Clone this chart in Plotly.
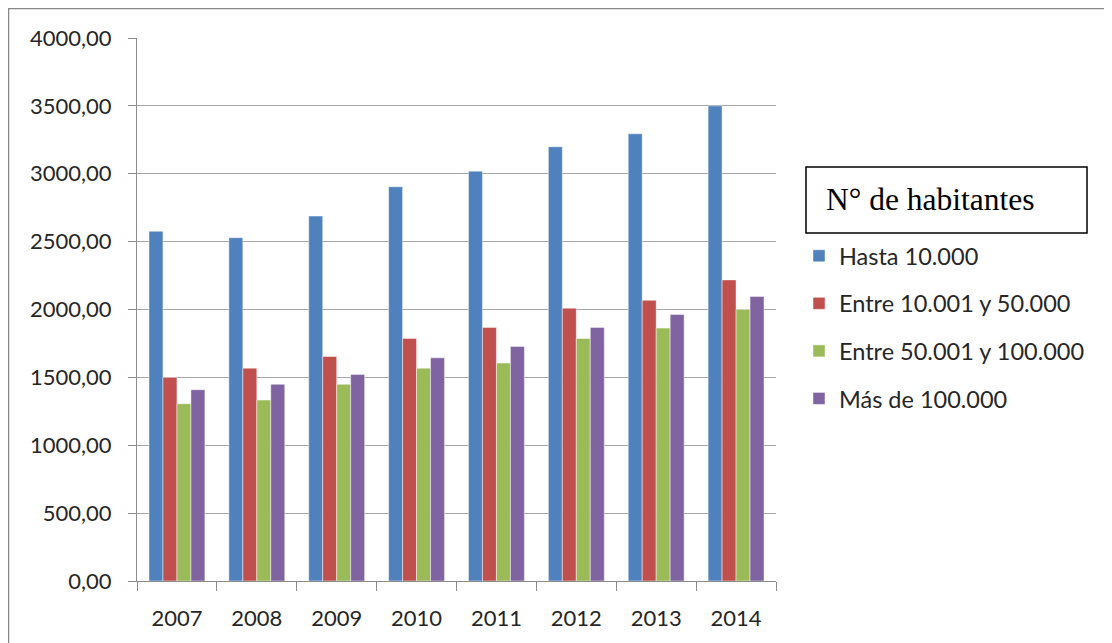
import plotly.graph_objects as go

years = ["2007", "2008", "2009", "2010", "2011", "2012", "2013", "2014"]
hasta_10000 = [2576, 2529, 2688, 2904, 3019, 3199, 3294, 3500]
entre_10001_50000 = [1500, 1568, 1654, 1787, 1868, 2010, 2068, 2218]
entre_50001_100000 = [1306, 1333, 1449, 1568, 1605, 1787, 1863, 2000]
mas_100000 = [1409, 1449, 1522, 1644, 1728, 1868, 1963, 2096]

series_names = ["Hasta 10.000", "Entre 10.001 y 50.000",
                "Entre 50.001 y 100.000", "Más de 100.000"]
series_values = [hasta_10000, entre_10001_50000, entre_50001_100000, mas_100000]
colors = ["#4F81BD", "#C0504D", "#9BBB59", "#8064A2"]
y_ticks = [0, 500, 1000, 1500, 2000, 2500, 3000, 3500, 4000]
y_tick_labels = ["0,00", "500,00", "1000,00", "1500,00", "2000,00",
                 "2500,00", "3000,00", "3500,00", "4000,00"]

fig = go.Figure()
for i, (name, vals, col) in enumerate(zip(series_names, series_values, colors)):
    fig.add_trace(go.Bar(
        x=years, y=vals, name=name, legendgroup=f"g{i}",
        marker=dict(color=col, line=dict(color="rgba(255,255,255,0.45)", width=1)),
    ))

# page has an 8px body margin; work in page coordinates and convert
OFF = 8
W, H = 1112 - OFF, 643 - OFF
L, R, T, B = 137, 776, 38, 581  # plot area in page coordinates
pw, ph = R - L, B - T

def px(x):
    return (x - L) / pw

def py(y):
    return (B - y) / ph

TXT = "#262626"
fig.update_layout(
    width=W, height=H,
    margin=dict(l=L - OFF, r=W - (R - OFF), t=T - OFF, b=H - (B - OFF), pad=0),
    paper_bgcolor="white", plot_bgcolor="white",
    barmode="group", bargap=0.3, bargroupgap=0,
    font=dict(family="Lato, Carlito, Calibri, sans-serif", size=22, color=TXT),
    showlegend=True,
    legend=dict(
        x=px(799), y=py(234), xanchor="left", yanchor="top",
        traceorder="grouped", tracegroupgap=14,
        font=dict(size=23.5, color=TXT),
        bgcolor="rgba(0,0,0,0)", itemwidth=30,
    ),
    xaxis=dict(
        type="category", showgrid=False, showline=True, linecolor="#8C8C8C", linewidth=1,
        ticks="outside", tickson="boundaries", ticklen=9, tickcolor="#8C8C8C",
        tickfont=dict(size=22, color=TXT), range=[-0.5, 7.5],
        ticklabelstandoff=18,
    ),
    yaxis=dict(
        range=[0, 4000], tickvals=y_ticks, ticktext=y_tick_labels,
        showgrid=True, gridcolor="#A6A6A6", gridwidth=1,
        showline=True, linecolor="#8C8C8C", linewidth=1,
        ticks="outside", ticklen=8, tickcolor="#8C8C8C",
        tickfont=dict(size=22, color=TXT), zeroline=False,
        ticklabelstandoff=12,
    ),
)

# outer chart frame (top and left edges visible)
fig.add_shape(type="line", xref="paper", yref="paper",
              x0=px(8), x1=px(1125), y0=py(8), y1=py(8),
              line=dict(color="#888888", width=2.5))
fig.add_shape(type="line", xref="paper", yref="paper",
              x0=px(8), x1=px(8), y0=py(8), y1=py(660),
              line=dict(color="#888888", width=2.5))

# legend title box
fig.add_shape(type="rect", xref="paper", yref="paper",
              x0=px(806), x1=px(1087), y0=py(167), y1=py(233),
              line=dict(color="black", width=1.5), fillcolor="white")
fig.add_annotation(xref="paper", yref="paper", x=px(824), y=py(199),
                   xanchor="left", yanchor="middle", showarrow=False,
                   text="N° de habitantes",
                   font=dict(family="Liberation Serif, Times New Roman, serif", size=31.5, color="black"))

fig.write_html("out.html")
